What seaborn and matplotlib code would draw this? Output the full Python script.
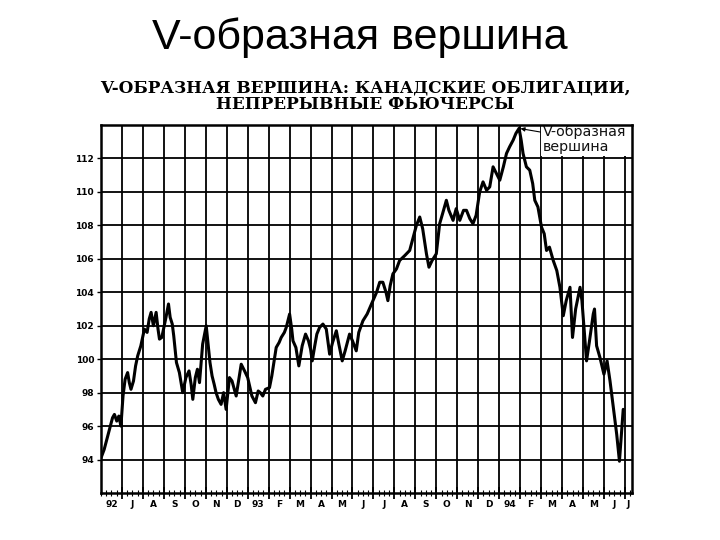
import numpy as np
import pandas as pd
import matplotlib
matplotlib.use('Agg')
import matplotlib.pyplot as plt
import seaborn as sns

# Canadian bond futures, months counted from June 1992
months = [0.0, 0.15, 0.32, 0.45, 0.55, 0.64, 0.75, 0.85, 0.95, 1.05,
          1.15, 1.27, 1.35, 1.43, 1.55, 1.65, 1.75, 1.9, 2.0, 2.07,
          2.2, 2.3, 2.39, 2.5, 2.63, 2.72, 2.79, 2.9, 3.0, 3.1,
          3.22, 3.3, 3.4, 3.47, 3.6, 3.74, 3.82, 3.9, 4.05, 4.2,
          4.3, 4.38, 4.5, 4.6, 4.7, 4.85, 5.02, 5.1, 5.2, 5.3,
          5.4, 5.49, 5.6, 5.73, 5.85, 5.97, 6.13, 6.25, 6.45, 6.55,
          6.69, 6.85, 7.0, 7.09, 7.2, 7.37, 7.5, 7.6, 7.72, 7.85,
          8.04, 8.15, 8.25, 8.36, 8.5, 8.6, 8.75, 8.84, 9.0, 9.1,
          9.16, 9.3, 9.44, 9.6, 9.76, 9.9, 10.0, 10.08, 10.2, 10.3,
          10.43, 10.59, 10.75, 10.91, 11.05, 11.23, 11.35, 11.51, 11.65, 11.86,
          12.0, 12.18, 12.3, 12.5, 12.7, 12.98, 13.15, 13.3, 13.45, 13.6,
          13.69, 13.8, 13.93, 14.1, 14.25, 14.5, 14.73, 14.9, 15.05, 15.21,
          15.35, 15.53, 15.65, 15.8, 16.0, 16.16, 16.3, 16.48, 16.6, 16.8,
          16.95, 17.12, 17.3, 17.44, 17.6, 17.75, 17.9, 18.07, 18.23, 18.4,
          18.55, 18.71, 18.87, 19.03, 19.2, 19.35, 19.5, 19.67, 19.8, 19.95,
          20.05, 20.14, 20.3, 20.46, 20.6, 20.7, 20.85, 21.02, 21.15, 21.26,
          21.4, 21.58, 21.75, 21.9, 22.06, 22.2, 22.38, 22.5, 22.65, 22.86,
          22.95, 23.05, 23.17, 23.3, 23.49, 23.55, 23.65, 23.81, 24.0, 24.15,
          24.29, 24.45, 24.61, 24.74, 24.85, 24.92]
prices = [94.1, 94.6, 95.4, 96.0, 96.5, 96.7, 96.3, 96.6, 96.0, 97.8,
          98.8, 99.2, 98.6, 98.2, 98.7, 99.6, 100.2, 100.8, 101.4, 101.8,
          101.6, 102.4, 102.8, 102.0, 102.8, 101.8, 101.2, 101.3, 101.9, 102.5,
          103.3, 102.5, 102.1, 101.4, 99.8, 99.2, 98.6, 98.0, 98.9, 99.3,
          98.5, 97.6, 98.9, 99.4, 98.6, 100.9, 102.0, 101.0, 99.8, 99.0,
          98.5, 98.0, 97.6, 97.3, 98.0, 97.0, 98.9, 98.7, 97.8, 98.6,
          99.7, 99.3, 98.9, 98.4, 97.8, 97.4, 98.1, 98.0, 97.8, 98.2,
          98.3, 99.0, 99.8, 100.7, 101.0, 101.3, 101.6, 101.9, 102.7, 101.8,
          101.1, 100.7, 99.6, 100.8, 101.5, 101.1, 100.6, 99.9, 100.8, 101.5,
          101.9, 102.1, 101.8, 100.3, 101.0, 101.7, 100.9, 99.9, 100.5, 101.5,
          101.1, 100.5, 101.6, 102.3, 102.7, 103.5, 104.0, 104.6, 104.6, 104.0,
          103.5, 104.4, 105.1, 105.4, 105.9, 106.2, 106.5, 107.3, 108.0, 108.5,
          107.8, 106.3, 105.5, 105.9, 106.3, 108.1, 108.7, 109.5, 108.9, 108.3,
          109.0, 108.3, 108.9, 108.9, 108.4, 108.1, 108.6, 110.0, 110.6, 110.1,
          110.3, 111.5, 111.1, 110.7, 111.5, 112.3, 112.7, 113.1, 113.5, 113.8,
          113.1, 112.3, 111.5, 111.3, 110.5, 109.5, 109.1, 107.9, 107.5, 106.5,
          106.7, 105.9, 105.3, 104.3, 102.6, 103.5, 104.3, 101.3, 103.0, 104.3,
          103.5, 101.9, 99.9, 101.0, 102.7, 103.0, 100.8, 100.1, 99.1, 99.9,
          98.7, 97.1, 95.5, 93.9, 95.8, 97.0]

month_labels = ['92', 'J', 'A', 'S', 'O', 'N', 'D', '93', 'F', 'M', 'A', 'M', 'J',
                'J', 'A', 'S', 'O', 'N', 'D', '94', 'F', 'M', 'A', 'M', 'J', 'J']
y_ticks = [94, 96, 98, 100, 102, 104, 106, 108, 110, 112]

df = pd.DataFrame({'month': months, 'price': prices})

sns.set_theme(style='white')
plt.rcParams['font.family'] = ['DejaVu Sans']
plt.rcParams['text.color'] = 'black'
plt.rcParams['ytick.color'] = 'black'
plt.rcParams['xtick.color'] = 'black'

fig = plt.figure(figsize=(7.2, 5.4), dpi=100)
ax = fig.add_axes([0.1403, 0.087, 0.7375, 0.6815])

sns.lineplot(data=df, x='month', y='price', color='black', linewidth=2.2, ax=ax)

x_max = 25.34
ax.set_xlim(0, x_max)
ax.set_ylim(92, 114)

# month boundaries = vertical grid, weekly minor ticks
ax.set_xticks(np.arange(1, 26))
ax.set_xticks(np.arange(0, x_max, 0.25), minor=True)
ax.set_xticklabels([])
ax.set_yticks(y_ticks)
ax.set_yticklabels([str(v) for v in y_ticks], fontsize=6.5, fontweight='bold')
ax.grid(True, which='major', color='black', linewidth=1.3)
ax.tick_params(axis='x', which='major', direction='inout', length=8, width=1.3, bottom=True)
ax.tick_params(axis='x', which='minor', direction='inout', length=4, width=0.8, bottom=True)
ax.tick_params(axis='y', direction='out', length=3, width=1, left=True, pad=2)

for i, lab in enumerate(month_labels):
    xc = i + 0.5 if i < 25 else (25 + x_max) / 2
    ax.text(xc, -0.02, lab, transform=ax.get_xaxis_transform(), ha='center', va='top',
            fontsize=6.5, fontweight='bold')

for s in ax.spines.values():
    s.set_color('black')
    s.set_linewidth(1.8)

ax.set_xlabel('')
ax.set_ylabel('')

ax.annotate('V-образная\nвершина', xy=(19.95, 113.8), xytext=(21.08, 114.0),
            fontsize=10.3, color='#111111', ha='left', va='top', linespacing=1.1,
            bbox=dict(boxstyle='square,pad=0.15', fc='white', ec='none'),
            arrowprops=dict(arrowstyle='-|>', color='black', lw=0.8, shrinkA=0, shrinkB=1,
                            mutation_scale=6),
            zorder=2.2, annotation_clip=False)

fig.text(0.507, 0.822, 'V-ОБРАЗНАЯ ВЕРШИНА: КАНАДСКИЕ ОБЛИГАЦИИ,\nНЕПРЕРЫВНЫЕ ФЬЮЧЕРСЫ',
         ha='center', va='center', fontsize=12.2, fontweight='bold',
         family='DejaVu Serif', linespacing=0.95)

fig.text(0.5, 0.931, 'V-образная вершина', ha='center', va='center', fontsize=31,
         family='Liberation Sans')

fig.savefig('out.png', dpi=100, facecolor='white')
